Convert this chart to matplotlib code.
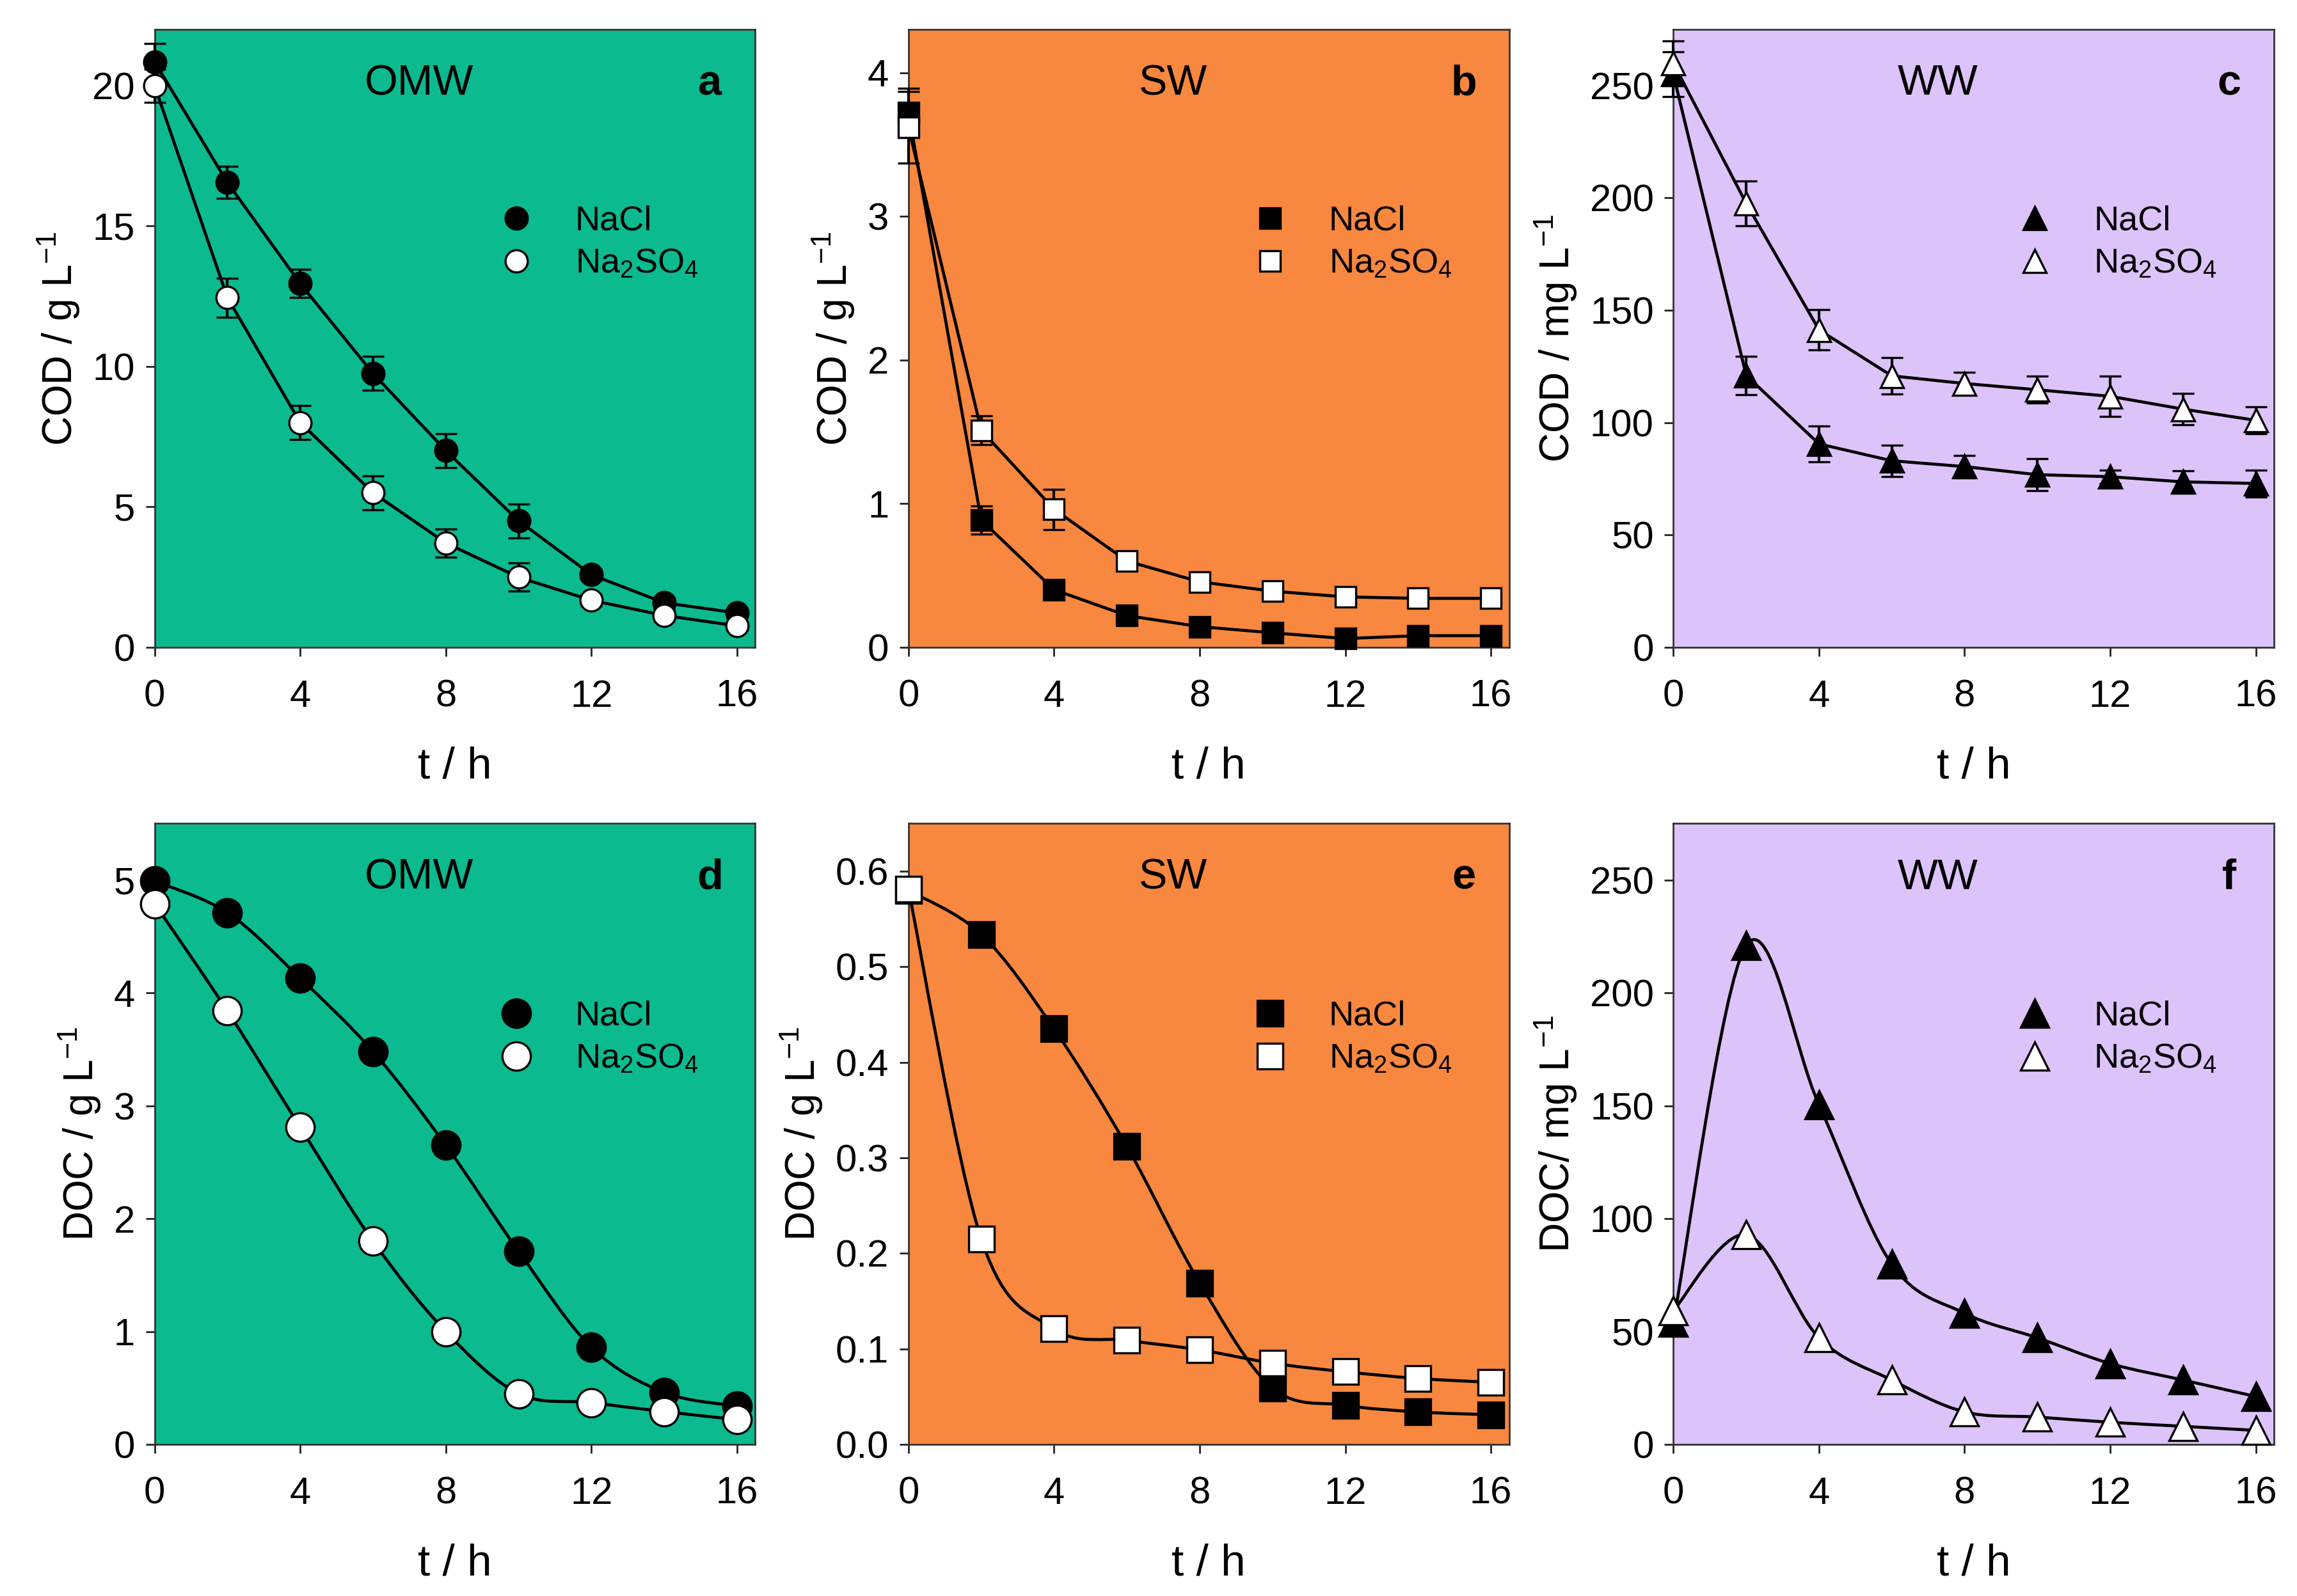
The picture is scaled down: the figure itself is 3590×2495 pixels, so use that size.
import numpy as np
import matplotlib.pyplot as plt
from matplotlib.path import Path
from matplotlib.patches import PathPatch
from matplotlib.lines import Line2D

plt.rcParams['font.family'] = ['Liberation Sans', 'DejaVu Sans']
plt.rcParams['mathtext.fontset'] = 'custom'
plt.rcParams['mathtext.rm'] = 'Liberation Sans'
plt.rcParams['mathtext.it'] = 'Liberation Sans:italic'
plt.rcParams['mathtext.bf'] = 'Liberation Sans:bold'

# sampling times (h)
t = [0, 2, 4, 6, 8, 10, 12, 14, 16]

# (a) COD, OMW, g/L
cod_omw_nacl = [20.85, 16.55, 12.95, 9.75, 7.0, 4.5, 2.58, 1.58, 1.22]
cod_omw_nacl_err = [0.65, 0.57, 0.5, 0.6, 0.6, 0.6, 0.2, 0.2, 0.15]
cod_omw_na2so4 = [20.0, 12.45, 8.0, 5.5, 3.71, 2.49, 1.67, 1.13, 0.76]
cod_omw_na2so4_err = [0.6, 0.7, 0.6, 0.6, 0.5, 0.5, 0.2, 0.2, 0.15]

# (b) COD, SW, g/L
cod_sw_nacl = [3.72, 0.885, 0.40, 0.22, 0.143, 0.10, 0.06, 0.08, 0.08]
cod_sw_nacl_err = [0.17, 0.1, 0.03, 0.03, 0.02, 0.02, 0.02, 0.02, 0.02]
cod_sw_na2so4 = [3.62, 1.51, 0.96, 0.60, 0.455, 0.39, 0.35, 0.34, 0.34]
cod_sw_na2so4_err = [0.25, 0.1, 0.14, 0.03, 0.03, 0.02, 0.02, 0.02, 0.02]

# (c) COD, WW, mg/L
cod_ww_nacl = [255, 121, 90.5, 83, 80.4, 76.8, 75.9, 73.6, 72.9]
cod_ww_nacl_err = [10, 8.5, 8, 7, 5, 7, 3, 5, 6]
cod_ww_na2so4 = [260, 197.6, 141.3, 120.8, 117.4, 114.6, 111.7, 106, 101]
cod_ww_na2so4_err = [10, 10, 9, 8, 5, 6, 9, 7, 6]

# (d) DOC, OMW, g/L
doc_omw_nacl = [4.99, 4.71, 4.13, 3.48, 2.65, 1.71, 0.86, 0.46, 0.34]
doc_omw_na2so4 = [4.79, 3.84, 2.81, 1.80, 1.00, 0.45, 0.37, 0.29, 0.22]

# (e) DOC, SW, g/L
doc_sw_nacl = [0.58, 0.534, 0.435, 0.312, 0.169, 0.059, 0.041, 0.034, 0.031]
doc_sw_na2so4 = [0.581, 0.215, 0.121, 0.109, 0.099, 0.085, 0.076, 0.069, 0.065]

# (f) DOC, WW, mg/L
doc_ww_nacl = [54, 221, 150.4, 79.8, 58.1, 47.2, 35.8, 28.5, 21.2]
doc_ww_na2so4 = [59.3, 92.8, 47.2, 28.5, 14.4, 12.1, 9.8, 8.0, 6.2]

labels = ['NaCl', 'Na$_2$SO$_4$']

green = '#0BBA8F'
orange = '#F8873F'
lilac = '#DCC3F9'

LW = 1.7


def smooth_line(ax, x, y):
    # Catmull-Rom curve through the points, drawn as cubic Bezier path
    x = np.asarray(x, float)
    y = np.asarray(y, float)
    px = np.concatenate([[x[0]], x, [x[-1]]])
    py = np.concatenate([[y[0]], y, [y[-1]]])
    verts = [(x[0], y[0])]
    codes = [Path.MOVETO]
    for i in range(1, len(px) - 2):
        c1 = (px[i] + (px[i + 1] - px[i - 1]) / 6, py[i] + (py[i + 1] - py[i - 1]) / 6)
        c2 = (px[i + 1] - (px[i + 2] - px[i]) / 6, py[i + 1] - (py[i + 2] - py[i]) / 6)
        verts += [c1, c2, (px[i + 1], py[i + 1])]
        codes += [Path.CURVE4] * 3
    ax.add_patch(PathPatch(Path(verts, codes), fill=False, edgecolor='black', lw=LW, zorder=2))


def setup(ax, bg, ylim, yticks, ylabel, name, letter, fmt=None):
    ax.set_facecolor(bg)
    ax.set_xlim(0, 16.5)
    ax.set_ylim(*ylim)
    ax.set_xticks([0, 4, 8, 12, 16])
    ax.set_yticks(yticks)
    if fmt:
        ax.set_yticklabels([fmt.format(v) for v in yticks])
    ax.tick_params(direction='out', length=5, width=1, labelsize=21.5, pad=6, colors='#222222',
                   labelcolor='black')
    ax.tick_params(axis='x', pad=13)
    for s in ax.spines.values():
        s.set_linewidth(1)
        s.set_color('#333333')
    ax.set_xlabel('t / h', fontsize=25, labelpad=18)
    ax.set_ylabel(ylabel, fontsize=23, labelpad=6)
    ax.text(0.44, 0.912, name, transform=ax.transAxes, ha='center', va='center', fontsize=24)
    ax.text(0.925, 0.912, letter, transform=ax.transAxes, ha='center', va='center',
            fontsize=24, fontweight='bold')


def legend(ax, marker, ms):
    h = [Line2D([], [], ls='none', marker=marker, ms=ms, mfc='black', mec='black', mew=1.2),
         Line2D([], [], ls='none', marker=marker, ms=ms, mfc='white', mec='black', mew=1.2)]
    ax.legend(h, labels, loc='center left', bbox_to_anchor=(0.573, 0.655), frameon=False,
              fontsize=19.5, handlelength=1.0, handletextpad=1.2, labelspacing=0.3,
              borderpad=0, borderaxespad=0)


def err_panel(ax, y1, e1, y2, e2, marker, ms):
    for y, e, fc in [(y1, e1, 'black'), (y2, e2, 'white')]:
        ax.errorbar(t, y, yerr=e, color='black', lw=LW, marker=marker, ms=ms, mfc=fc,
                    mec='black', mew=1.2, ecolor='black', elinewidth=1.5, capsize=6,
                    capthick=1.5, zorder=3, clip_on=False)


def smooth_panel(ax, y1, y2, marker, ms):
    for y, fc in [(y1, 'black'), (y2, 'white')]:
        smooth_line(ax, t, y)
        ax.plot(t, y, ls='none', marker=marker, ms=ms, mfc=fc, mec='black', mew=1.2,
                zorder=3, clip_on=False)


fig = plt.figure(figsize=(17.95, 12.475), dpi=200)
lefts = [0.0673, 0.3955, 0.7285]
w = 0.2615
top_row = [fig.add_axes([l, 0.5945, w, 0.387]) for l in lefts]
bot_row = [fig.add_axes([l, 0.095, w, 0.389]) for l in lefts]

ax = top_row[0]
setup(ax, green, (0, 22), [0, 5, 10, 15, 20], 'COD / g L$^{-1}$', 'OMW', 'a')
err_panel(ax, cod_omw_nacl, cod_omw_nacl_err, cod_omw_na2so4, cod_omw_na2so4_err, 'o', 12.5)
legend(ax, 'o', 12.5)

ax = top_row[1]
setup(ax, orange, (0, 4.3), [0, 1, 2, 3, 4], 'COD / g L$^{-1}$', 'SW', 'b')
err_panel(ax, cod_sw_nacl, cod_sw_nacl_err, cod_sw_na2so4, cod_sw_na2so4_err, 's', 11.5)
legend(ax, 's', 11.5)

ax = top_row[2]
setup(ax, lilac, (0, 275), [0, 50, 100, 150, 200, 250], 'COD / mg L$^{-1}$', 'WW', 'c')
err_panel(ax, cod_ww_nacl, cod_ww_nacl_err, cod_ww_na2so4, cod_ww_na2so4_err, '^', 13)
legend(ax, '^', 13)

ax = bot_row[0]
setup(ax, green, (0, 5.5), [0, 1, 2, 3, 4, 5], 'DOC / g L$^{-1}$', 'OMW', 'd')
smooth_panel(ax, doc_omw_nacl, doc_omw_na2so4, 'o', 16)
legend(ax, 'o', 16)

ax = bot_row[1]
setup(ax, orange, (0, 0.65), [0, 0.1, 0.2, 0.3, 0.4, 0.5, 0.6], 'DOC / g L$^{-1}$', 'SW', 'e',
      fmt='{:.1f}')
smooth_panel(ax, doc_sw_nacl, doc_sw_na2so4, 's', 14.5)
legend(ax, 's', 14.5)

ax = bot_row[2]
setup(ax, lilac, (0, 275), [0, 50, 100, 150, 200, 250], 'DOC/ mg L$^{-1}$', 'WW', 'f')
smooth_panel(ax, doc_ww_nacl, doc_ww_na2so4, '^', 16)
legend(ax, '^', 16)

fig.savefig('out.png', dpi=200)
